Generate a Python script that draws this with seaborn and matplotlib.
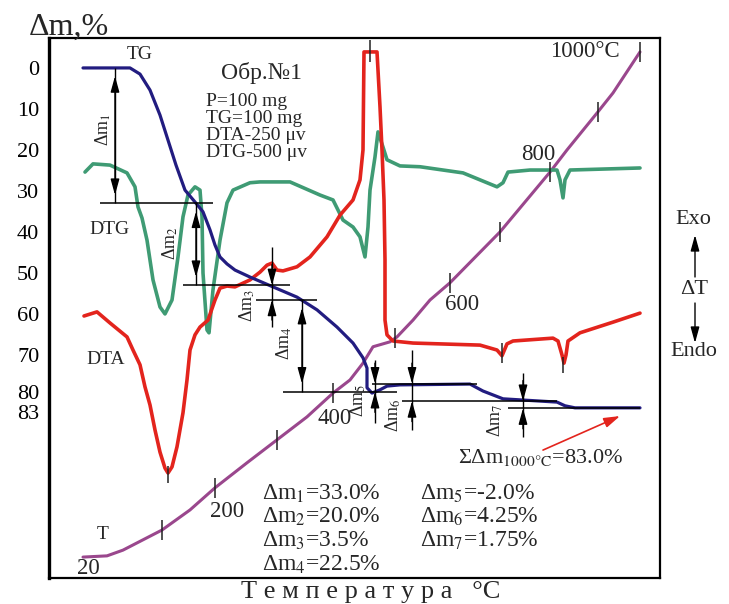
import numpy as np
import matplotlib
matplotlib.use("Agg")
import matplotlib.pyplot as plt
from matplotlib.transforms import ScaledTranslation
import seaborn as sns

# curves (x = recording scale, y = on the delta-m scale)
tg_x = [83, 130, 140, 150, 160, 168, 176, 185, 195, 203, 210, 215, 220, 227, 235, 250, 273, 297, 317, 337,
        353, 363, 367, 367, 372, 380, 387, 400, 470, 483, 503, 557, 565, 575, 640]
tg_y = [0, 0, 1.5, 5.4, 11.5, 17.6, 23.7, 29.8, 32.7, 35.1, 39.5, 43.2, 46.1, 47.8, 49.3, 51.0, 53.4, 55.9, 59.0, 63.2,
        67.1, 70.7, 73.2, 78.0, 79.3, 78.5, 77.6, 77.3, 77.1, 78.8, 80.7, 81.5, 82.4, 82.9, 82.9]

dta_x = [84, 97, 110, 127, 133, 140, 145, 150, 155, 160, 165, 168, 172, 177, 183, 187, 190, 195, 200, 208,
         215, 220, 227, 235, 250, 260, 267, 272, 277, 283, 297, 310, 327, 340, 353, 360, 363, 364, 377, 380,
         382, 384, 385, 385, 387, 393, 413, 480, 497, 502, 507, 513, 553, 558, 562, 564, 566, 568, 580, 613, 640]
dta_y = [60.5, 59.5, 62.2, 65.6, 68.8, 72.4, 77.8, 82.2, 88.3, 93.7, 97.6, 98.8, 97.3, 92.4, 84.1, 76.1, 68.8, 65.1, 63.2, 61.5,
         56.6, 53.7, 53.2, 53.4, 51.7, 49.8, 48.1, 47.6, 49.3, 49.5, 48.5, 46.1, 41.2, 35.9, 32.2, 27.3, 20.0, -3.9, -3.9, 9.5,
         20.0, 32.2, 46.8, 61.5, 65.1, 66.6, 67.1, 67.6, 68.8, 70.2, 67.3, 66.6, 65.9, 66.6, 70.0, 72.0, 70.0, 66.6, 64.6, 62.0, 59.8]

dtg_x = [85, 93, 110, 127, 135, 138, 142, 147, 153, 160, 165, 172, 178, 183, 188, 195, 200, 202, 203, 207,
         209, 213, 220, 227, 233, 250, 260, 290, 320, 333, 343, 353, 360, 365, 368, 370, 375, 378, 383, 387,
         400, 420, 463, 497, 503, 508, 530, 557, 560, 563, 565, 570, 640]
dtg_y = [25.4, 23.4, 23.7, 25.6, 29.0, 33.9, 36.6, 42.0, 51.7, 58.3, 60.0, 56.6, 46.1, 36.3, 31.0, 29.0, 29.8, 36.3, 50.0, 63.9,
         64.6, 54.1, 42.0, 32.9, 29.8, 28.0, 27.8, 27.8, 31.0, 32.2, 37.1, 38.8, 41.2, 46.1, 38.8, 29.8, 21.7, 15.6, 19.3, 22.4,
         23.9, 24.1, 25.6, 29.0, 28.0, 25.4, 24.9, 24.9, 27.3, 31.7, 27.3, 24.9, 24.4]

t_x = [83, 107, 123, 162, 190, 215, 247, 277, 307, 333, 350, 363, 373, 390, 397, 413, 430, 450, 500, 550, 567, 597, 613, 640]
t_y = [119.3, 119.0, 117.6, 112.7, 107.8, 102.4, 96.3, 90.7, 85.1, 79.3, 76.1, 72.0, 68.0, 66.8, 65.6, 61.5, 56.6, 52.4,
       40.0, 25.4, 20.0, 11.0, 6.1, -3.9]

# every 100 C on the T curve
t_marks = [162, 215, 277, 333, 395, 450, 500, 550, 598, 640]
t_label_text = ["20", "200", "400", "600", "800", "1000°C"]
t_label_x = [88, 227, 335, 462, 538, 585]
t_label_y = [122.0, 108.3, 85.6, 57.8, 21.0, -3.9]

# small marks on the DTA peaks
dta_marks_x = [168, 370, 502, 563]
dta_marks_lo = [97.1, -6.8, 67.1, 70.5]
dta_marks_hi = [101.2, -1.5, 72.0, 74.4]

# mass-loss steps
dm = [33.0, 20.0, 3.5, 22.5, -2.0, 4.25, 1.75]
dm_text = ["33.0%", "20.0%", "3.5%", "22.5%", "-2.0%", "4.25%", "1.75%"]
arrow_x = [115, 196, 272, 302, 375, 412, 523]
line_from = [100, 183, 256, 283, 372, 402, 508]
line_to = [213, 290, 317, 397, 477, 557, 640]
outside = [False, False, True, False, True, True, True]
ext_top = [0, 0, 43.7, 0, 71.2, 68.8, 74.4]
ext_bot = [0, 0, 63.2, 0, 86.6, 88.3, 90.0]
lab_x = [103, 170, 247, 284, 358, 393, 495]
lab_y = [15.1, 42.7, 57.8, 67.1, 81.0, 84.6, 85.9]

yticks = [0, 10, 20, 30, 40, 50, 60, 70, 80, 83]

navy = "#221c80"
red = "#e3241d"
green = "#3f9b74"
purple = "#9a478d"

sns.set_style("white")
plt.rcParams["font.family"] = ["Liberation Serif", "DejaVu Serif"]
plt.rcParams["mathtext.fontset"] = "stix"

fig = plt.figure(figsize=(7.29, 6.04), dpi=100)
ax = fig.add_axes([49 / 729, 1 - 578 / 604, 611 / 729, 540 / 604])

sns.lineplot(x=t_x, y=t_y, sort=False, estimator=None, color=purple, lw=2.2, ax=ax)
sns.lineplot(x=dtg_x, y=dtg_y, sort=False, estimator=None, color=green, lw=2.6, ax=ax)
sns.lineplot(x=dta_x, y=dta_y, sort=False, estimator=None, color=red, lw=2.6, ax=ax)
sns.lineplot(x=tg_x, y=tg_y, sort=False, estimator=None, color=navy, lw=2.3, ax=ax)

ax.set_xlim(49, 660)
ax.set_ylim(124.4, -7.3)
ax.set_xticks([])
ax.set_yticks(yticks)
ax.set_yticklabels([str(v) for v in yticks])
ax.tick_params(axis="y", direction="in", length=16, width=2, labelsize=16, pad=7, colors="black")
# 80 and 83 sit close together, pull them apart a little
for lab in ax.get_yticklabels():
    if lab.get_text() == "80":
        lab.set_transform(lab.get_transform() + ScaledTranslation(0, 2.5 / 72, fig.dpi_scale_trans))
    if lab.get_text() == "83":
        lab.set_transform(lab.get_transform() + ScaledTranslation(0, -2.5 / 72, fig.dpi_scale_trans))
for s in ax.spines.values():
    s.set_color("black")
    s.set_linewidth(1.6)
ax.spines["left"].set_linewidth(2.4)

# temperature marks
t_at = np.interp(t_marks, t_x, t_y)
ax.vlines(t_marks, t_at - 2.4, t_at + 2.4, color="#222222", lw=1.1)
for txt, xx, yy in zip(t_label_text, t_label_x, t_label_y):
    ax.text(xx, yy, txt, fontsize=16.5, ha="center", va="center")
ax.vlines(dta_marks_x, dta_marks_lo, dta_marks_hi, color="#222222", lw=1.1)

# steps
levels = np.concatenate([[0], np.cumsum(dm)])
head = dict(arrowstyle="-|>,head_length=0.8,head_width=0.22", color="black", lw=1,
            shrinkA=0, shrinkB=0, mutation_scale=12)
both = dict(arrowstyle="<|-|>,head_length=0.8,head_width=0.22", color="black", lw=1,
            shrinkA=0, shrinkB=0, mutation_scale=12)
for i in range(len(dm)):
    ax.hlines(levels[i + 1], line_from[i], line_to[i], color="black", lw=1.1)
    top = min(levels[i], levels[i + 1])
    bot = max(levels[i], levels[i + 1])
    x = arrow_x[i]
    if outside[i]:
        ax.vlines(x, ext_top[i], ext_bot[i], color="black", lw=1)
        ax.annotate("", xy=(x, top), xytext=(x, top - 5), arrowprops=head)
        ax.annotate("", xy=(x, bot), xytext=(x, bot + 5), arrowprops=head)
    else:
        ax.vlines(x, top, bot, color="black", lw=1)
        ax.annotate("", xy=(x, top + 2), xytext=(x, bot - 2), arrowprops=both)
    ax.text(lab_x[i], lab_y[i], "Δm$_{%d}$" % (i + 1), rotation=90, fontsize=13,
            ha="center", va="center")

# curve names and run info
ax.text(140, -3.2, "TG", fontsize=14, ha="center", va="center")
ax.text(109, 39.5, "DTG", fontsize=14, ha="center", va="center")
ax.text(106, 71.0, "DTA", fontsize=14, ha="center", va="center")
ax.text(103, 113.9, "T", fontsize=14, ha="center", va="center")
ax.text(261, 1.2, "Обр.№1", fontsize=17, ha="center", va="center")
for j, s in enumerate(["P=100 mg", "TG=100 mg", "DTA-250 μv", "DTG-500 μv"]):
    ax.text(206, 8.3 + 4.1 * j, s, fontsize=14, ha="left", va="center")

# results
col_x = [262, 420]
row_y = [103.9, 109.5, 115.4, 121.2]
for i in range(len(dm)):
    c = 0 if i < 4 else 1
    r = i if i < 4 else i - 4
    ax.text(col_x[c], row_y[r], "Δm$_{%d}$=%s" % (i + 1, dm_text[i]), fontsize=17, ha="left", va="center")

ax.text(458, 94.9, "ΣΔm$_{\\mathrm{1000°C}}$=%.1f%%" % levels[-1], fontsize=16, ha="left", va="center")
ax.annotate("", xy=(620, 84.9), xytext=(543, 93.2),
            arrowprops=dict(arrowstyle="-|>,head_length=0.8,head_width=0.25", color=red, lw=1.2,
                            shrinkA=0, shrinkB=0, mutation_scale=12))

# outer labels
fig.text(69 / 729, 1 - 27 / 604, "Δm,%", fontsize=23, ha="center", va="center")
fig.text(371 / 729, 1 - 592 / 604, "Т е м п е р а т у р а   °C", fontsize=19, ha="center", va="center")
fig.text(693 / 729, 1 - 220 / 604, "Exo", fontsize=16, ha="center", va="center")
fig.text(694 / 729, 1 - 290 / 604, "ΔT", fontsize=16, ha="center", va="center")
fig.text(694 / 729, 1 - 352 / 604, "Endo", fontsize=16, ha="center", va="center")
fig.add_artist(matplotlib.patches.FancyArrowPatch((695 / 729, 1 - 277 / 604), (695 / 729, 1 - 235 / 604),
                                                  transform=fig.transFigure, **head))
fig.add_artist(matplotlib.patches.FancyArrowPatch((695 / 729, 1 - 303 / 604), (695 / 729, 1 - 343 / 604),
                                                  transform=fig.transFigure, **head))

fig.savefig("out.png", dpi=100)
